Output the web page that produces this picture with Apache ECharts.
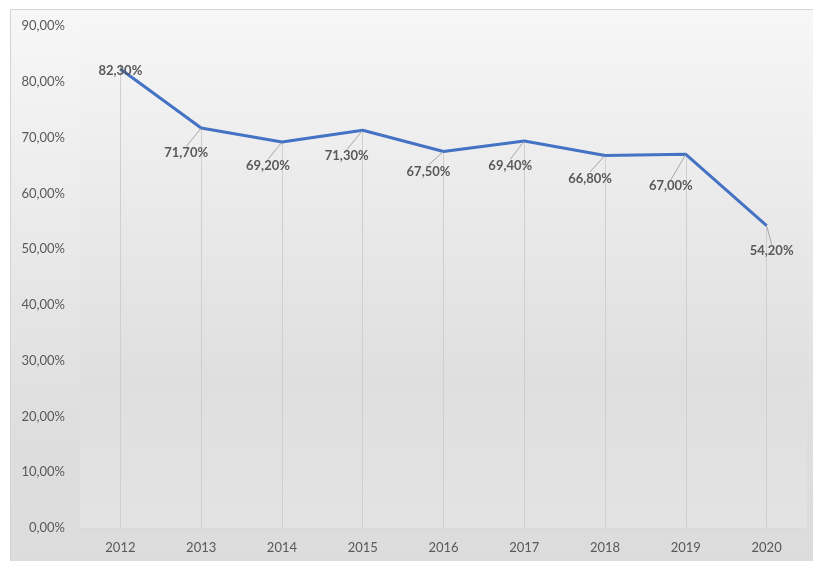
<!DOCTYPE html>
<html>
<head>
<meta charset="utf-8">
<script src="https://cdn.jsdelivr.net/npm/echarts@6/dist/echarts.min.js"></script>
<style>
  html, body { margin: 0; padding: 0; background: #ffffff; }
  #chart { width: 813px; height: 561px; }
</style>
</head>
<body>
<div id="chart"></div>
<script>
// Yearly share (%)
const years = ['2012', '2013', '2014', '2015', '2016', '2017', '2018', '2019', '2020'];
const shares = [82.3, 71.7, 69.2, 71.3, 67.5, 69.4, 66.8, 67.0, 54.2];

// Where each value label sits relative to its point (px)
const labelShift = [
  [0, 2], [-15, 25], [-14, 24], [-16, 26], [-15, 20],
  [-14, 25], [-15, 23], [-15, 32], [5, 25]
];

const fmt = v => v.toFixed(2).replace('.', ',') + '%';
const FONT = 'Lato, "Open Sans", sans-serif';
const GREY = '#595959';

const chart = echarts.init(document.getElementById('chart'), null, { renderer: 'canvas' });

chart.setOption({
  animation: false,
  backgroundColor: '#ffffff',
  graphic: [{
    type: 'rect',
    z: -10,
    shape: { x: 10.5, y: 9.5, width: 810, height: 560 },
    style: {
      fill: new echarts.graphic.LinearGradient(0, 0, 0, 1, [
        { offset: 0, color: '#f7f7f7' },
        { offset: 0.75, color: '#dedede' },
        { offset: 1, color: '#dcdcdc' }
      ]),
      stroke: '#d4d4d4',
      lineWidth: 1
    }
  }],
  grid: {
    left: 80, right: 6, top: 26, bottom: 33,
    show: true,
    borderWidth: 0,
    backgroundColor: new echarts.graphic.LinearGradient(0, 0, 0, 1, [
      { offset: 0, color: '#f5f5f5' },
      { offset: 0.7, color: '#dfdfdf' },
      { offset: 1, color: '#e3e3e3' }
    ])
  },
  xAxis: {
    type: 'category',
    data: years,
    boundaryGap: true,
    axisLine: { lineStyle: { color: '#d9d9d9', width: 1 } },
    axisTick: { show: false },
    axisLabel: { color: GREY, fontFamily: FONT, fontSize: 13, margin: 13 },
    splitLine: { show: false }
  },
  yAxis: {
    type: 'value',
    min: 0, max: 90, interval: 10,
    axisLine: { show: false },
    axisTick: { show: false },
    splitLine: { show: false },
    axisLabel: { color: GREY, fontFamily: FONT, fontSize: 13, margin: 15, formatter: v => fmt(v) }
  },
  series: [{
    type: 'line',
    data: shares,
    showSymbol: true,
    symbol: 'circle',
    symbolSize: 1,
    itemStyle: { color: '#4472c4' },
    lineStyle: { color: '#4472c4', width: 3 },
    z: 5,
    label: {
      show: true,
      position: 'inside',
      color: GREY,
      fontFamily: FONT,
      fontWeight: 'bold',
      fontSize: 13,
      formatter: p => fmt(p.value)
    },
    labelLine: { show: true, lineStyle: { color: '#a6a6a6', width: 1 } },
    labelLayout: p => ({ dx: labelShift[p.dataIndex][0], dy: labelShift[p.dataIndex][1] }),
    markLine: {
      silent: true,
      symbol: ['none', 'none'],
      label: { show: false },
      lineStyle: { color: '#cfcfcf', width: 1, type: 'solid' },
      z: 1,
      data: shares.map((v, i) => [{ coord: [i, 0] }, { coord: [i, v] }])
    }
  }]
});
</script>
</body>
</html>
